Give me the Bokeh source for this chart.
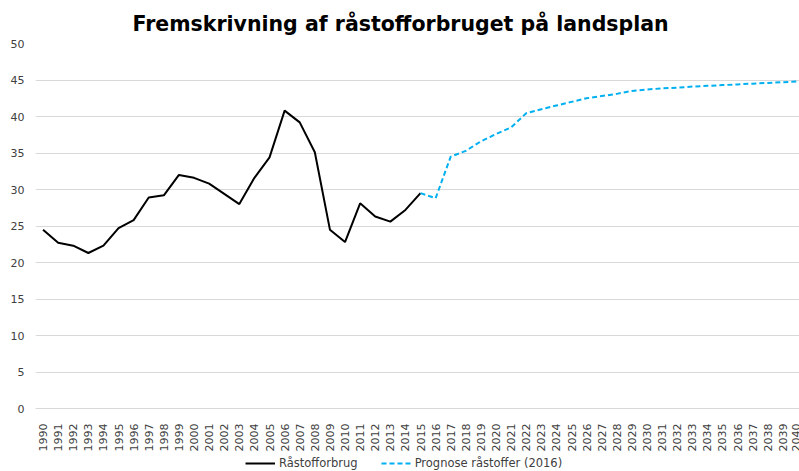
import numpy as np
from bokeh.plotting import figure
from bokeh.layouts import column
from bokeh.models import FixedTicker, Legend, LegendItem, Title, Range1d
from bokeh.embed import file_html
from bokeh.resources import INLINE

years_hist = list(range(1990, 2016))
hist = [24.5, 22.7, 22.3, 21.3, 22.3, 24.7, 25.8, 28.9, 29.2, 32.0,
        31.6, 30.8, 29.4, 28.0, 31.6, 34.4, 40.8, 39.2, 35.1, 24.5,
        22.8, 28.1, 26.3, 25.6, 27.2, 29.5]

years_prog = list(range(2015, 2041))
prog = [29.5, 28.8, 34.5, 35.3, 36.6, 37.6, 38.5, 40.45, 41.0, 41.5,
        42.0, 42.5, 42.8, 43.1, 43.5, 43.7, 43.85, 43.95, 44.1, 44.2,
        44.3, 44.4, 44.5, 44.6, 44.7, 44.8]

y_ticks = [0, 5, 10, 15, 20, 25, 30, 35, 40, 45, 50]
x_ticks = list(range(1990, 2041))
series_names = ["Råstofforbrug", "Prognose råstoffer (2016)"]

FONT = "DejaVu Sans"
TXT = "#404040"
BLUE = "#00B0F0"

p = figure(width=799, height=454, output_backend="svg", toolbar_location=None,
           x_range=Range1d(1989.5, 2040.1), y_range=Range1d(0, 50),
           min_border_left=35, min_border_right=0, min_border_top=43,
           min_border_bottom=46)
p.outline_line_color = None
p.background_fill_color = "white"

t = Title(text="Fremskrivning af råstofforbruget på landsplan", align="left",
          text_font=FONT, text_font_size="20.5px", text_font_style="bold",
          text_color="black", offset=97, standoff=16, text_line_height=1.0)
p.title = t

p.xgrid.grid_line_color = None
p.ygrid.grid_line_color = "#d9d9d9"
p.ygrid.ticker = FixedTicker(ticks=y_ticks)

p.yaxis.ticker = FixedTicker(ticks=y_ticks)
p.yaxis.axis_line_color = None
p.yaxis.major_tick_line_color = None
p.yaxis.minor_tick_line_color = None
p.yaxis.major_label_standoff = 5
p.yaxis.major_label_text_font = FONT
p.yaxis.major_label_text_font_size = "11px"
p.yaxis.major_label_text_color = TXT

p.xaxis.ticker = FixedTicker(ticks=x_ticks)
p.xaxis.axis_line_color = "#d9d9d9"
p.xaxis.major_tick_line_color = None
p.xaxis.minor_tick_line_color = None
p.xaxis.major_label_orientation = np.pi / 2
p.xaxis.major_label_standoff = 9
p.xaxis.major_label_text_font = FONT
p.xaxis.major_label_text_font_size = "11px"
p.xaxis.major_label_text_color = TXT

p.line(years_hist, hist, line_color="black", line_width=2)
p.line(years_prog, prog, line_color=BLUE, line_width=2, line_dash="5 3")

# legend strip below the chart (series drawn outside its visible range)
lg = figure(width=799, height=17, output_backend="svg", toolbar_location=None,
            x_range=Range1d(0, 1), y_range=Range1d(0, 1),
            min_border_left=0, min_border_right=0, min_border_top=0,
            min_border_bottom=0)
lg.axis.visible = False
lg.grid.visible = False
lg.outline_line_color = None
l1 = lg.line(years_hist, hist, line_color="black", line_width=2)
l2 = lg.line(years_prog, prog, line_color=BLUE, line_width=2, line_dash="5 3")
legend = Legend(items=[LegendItem(label=series_names[0], renderers=[l1]),
                       LegendItem(label=series_names[1], renderers=[l2])],
                orientation="horizontal", location=(210, 1),
                label_text_font=FONT, label_text_font_size="11.5px",
                label_text_color=TXT, glyph_width=30, glyph_height=14,
                label_height=14, label_standoff=4, spacing=23,
                padding=0, margin=0, border_line_color=None,
                background_fill_alpha=0)
lg.add_layout(legend, "center")

layout = column(p, lg, spacing=0)
open("out.html", "w").write(file_html(layout, INLINE))
